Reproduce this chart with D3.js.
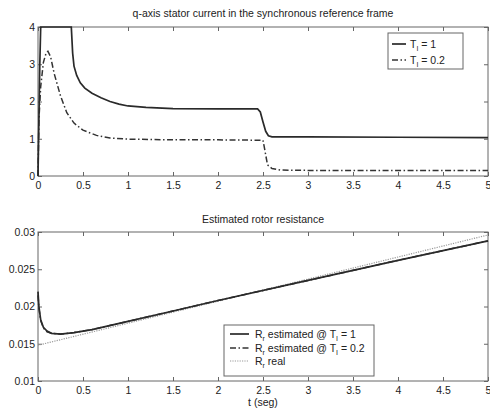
<!DOCTYPE html>
<meta charset="utf-8">
<style>
  body { margin: 0; background: #fff; }
  svg { font-family: "Liberation Sans", Arial, sans-serif; }
  .frame { fill: none; stroke: #666; stroke-width: 1px; }
  .tick line { stroke: #666; }
  .tick text { font-size: 10.5px; fill: #222; }
  .domain { display: none; }
  .ttl { font-size: 10.5px; fill: #222; }
  .leg text { font-size: 10.5px; fill: #222; }
</style>
<svg width="490" height="410"></svg>
<script src="https://d3js.org/d3.v7.min.js"></script>
<script>
  // top plot: q-axis current
  var tSolid = [0, 0.01, 0.02, 0.03, 0.37, 0.385, 0.40, 0.43, 0.47, 0.52, 0.6, 0.7, 0.8, 0.9, 1.0, 1.2, 1.5, 2.0, 2.44, 2.47, 2.5, 2.53, 2.56, 2.6, 3.0, 4.0, 5.0];
  var iqSolid = [0, 1.5, 3.0, 4, 4, 3.3, 2.95, 2.7, 2.5, 2.36, 2.22, 2.1, 2.0, 1.93, 1.88, 1.84, 1.81, 1.8, 1.8, 1.72, 1.45, 1.2, 1.08, 1.05, 1.05, 1.04, 1.03];
  var tDash = [0, 0.01, 0.03, 0.06, 0.09, 0.11, 0.14, 0.18, 0.25, 0.32, 0.4, 0.5, 0.65, 0.8, 1.0, 1.5, 2.0, 2.5, 2.52, 2.55, 2.6, 2.7, 3, 4, 5];
  var iqDash = [0, 1.5, 2.4, 3.05, 3.3, 3.35, 3.2, 2.75, 2.15, 1.7, 1.42, 1.23, 1.09, 1.02, 0.99, 0.97, 0.97, 0.96, 0.7, 0.3, 0.2, 0.16, 0.15, 0.15, 0.15];

  // bottom plot: rotor resistance
  var tR = [0, 0.01, 0.03, 0.06, 0.1, 0.15, 0.25, 0.4, 0.6, 1.0, 1.5, 2, 3, 4, 5];
  var rSolid = [0.0220, 0.0200, 0.0182, 0.0172, 0.0167, 0.0164, 0.0163, 0.0165, 0.0169, 0.0180, 0.0194, 0.0208, 0.0235, 0.0262, 0.0288];
  var rDash = [0.0215, 0.0198, 0.0181, 0.0171, 0.0166, 0.0164, 0.0163, 0.0165, 0.0169, 0.0180, 0.0194, 0.0208, 0.0235, 0.0262, 0.0288];
  var tReal = [0, 5];
  var rReal = [0.0148, 0.0296];

  var xTicks = [0, 0.5, 1, 1.5, 2, 2.5, 3, 3.5, 4, 4.5, 5];
  var yTicksTop = [0, 1, 2, 3, 4];
  var yTicksBot = [0.01, 0.015, 0.02, 0.025, 0.03];

  var svg = d3.select("svg");
  var left = 38, right = 488;

  var x = d3.scaleLinear().domain([0, 5]).range([left, right]);

  function panel(top, bottom, yDomain, yTicks, fmt) {
    var g = svg.append("g");
    var y = d3.scaleLinear().domain(yDomain).range([bottom, top]);
    g.append("g").attr("transform", "translate(0," + bottom + ")")
      .call(d3.axisBottom(x).tickValues(xTicks).tickSize(-4).tickPadding(6).tickFormat(d3.format("")));
    g.append("g").attr("transform", "translate(0," + top + ")")
      .call(d3.axisTop(x).tickValues(xTicks).tickSize(-4).tickFormat(""));
    g.append("g").attr("transform", "translate(" + left + ",0)")
      .call(d3.axisLeft(y).tickValues(yTicks).tickSize(-4).tickPadding(3).tickFormat(fmt));
    g.append("g").attr("transform", "translate(" + right + ",0)")
      .call(d3.axisRight(y).tickValues(yTicks).tickSize(-4).tickFormat(""));
    g.append("rect").attr("class", "frame")
      .attr("x", left).attr("y", top).attr("width", right - left).attr("height", bottom - top);
    return { g: g, y: y };
  }

  function curve(p, ts, vs, style) {
    var line = d3.line().x(function(d) { return x(d[0]); }).y(function(d) { return p.y(d[1]); });
    p.g.append("path")
      .datum(d3.zip(ts, vs))
      .attr("d", line)
      .attr("fill", "none")
      .attr("stroke", style.color)
      .attr("stroke-width", style.width)
      .attr("stroke-dasharray", style.dash);
  }

  var solid = { color: "#2a2a2a", width: 1.7, dash: null };
  var dashdot = { color: "#333", width: 1.5, dash: "6,2.5,1.5,2.5" };
  var dotted = { color: "#999", width: 1.2, dash: "1.2,1.2" };

  // top panel
  var p1 = panel(27, 176, [0, 4], yTicksTop, d3.format(""));
  svg.append("text").attr("class", "ttl").attr("x", 263).attr("y", 17).attr("text-anchor", "middle")
    .text("q-axis stator current in the synchronous reference frame");
  curve(p1, tDash, iqDash, dashdot);
  curve(p1, tSolid, iqSolid, solid);

  // bottom panel
  var p2 = panel(232, 381, [0.01, 0.03], yTicksBot, function(d) { return d3.format("")(+d.toFixed(3)); });
  svg.append("text").attr("class", "ttl").attr("x", 263).attr("y", 223).attr("text-anchor", "middle")
    .text("Estimated rotor resistance");
  svg.append("text").attr("class", "ttl").attr("x", 263).attr("y", 406).attr("text-anchor", "middle")
    .text("t (seg)");
  curve(p2, tReal, rReal, dotted);
  curve(p2, tR, rDash, dashdot);
  curve(p2, tR, rSolid, solid);

  // legends
  function legend(bx, by, bw, bh, rows, sx0, sx1, tx, ry) {
    var lg = svg.append("g").attr("class", "leg");
    lg.append("rect").attr("x", bx).attr("y", by).attr("width", bw).attr("height", bh)
      .attr("fill", "#fff").attr("stroke", "#666");
    rows.forEach(function(r, i) {
      var yy = ry[i];
      lg.append("line").attr("x1", sx0).attr("x2", sx1).attr("y1", yy).attr("y2", yy)
        .attr("stroke", r.style.color).attr("stroke-width", r.style.width)
        .attr("stroke-dasharray", r.style.dash);
      var t = lg.append("text").attr("x", tx).attr("y", yy + 4);
      r.parts.forEach(function(pt) {
        var s = t.append("tspan").text(pt[0]);
        if (pt[1]) s.attr("dy", 3).style("font-size", "7px");
        else if (pt[2]) s.attr("dy", -3);
      });
    });
  }

  legend(388, 33, 75, 36, [
    { style: solid, parts: [["T"], ["I", 1], [" = 1", 0, 1]] },
    { style: dashdot, parts: [["T"], ["I", 1], [" = 0.2", 0, 1]] }
  ], 392, 406, 410, [44, 60]);

  legend(224, 325, 150, 51, [
    { style: solid, parts: [["R"], ["r", 1], [" estimated @ T", 0, 1], ["I", 1], [" = 1", 0, 1]] },
    { style: dashdot, parts: [["R"], ["r", 1], [" estimated @ T", 0, 1], ["I", 1], [" = 0.2", 0, 1]] },
    { style: dotted, parts: [["R"], ["r", 1], [" real", 0, 1]] }
  ], 230, 249, 255, [334, 348, 361]);
</script>
